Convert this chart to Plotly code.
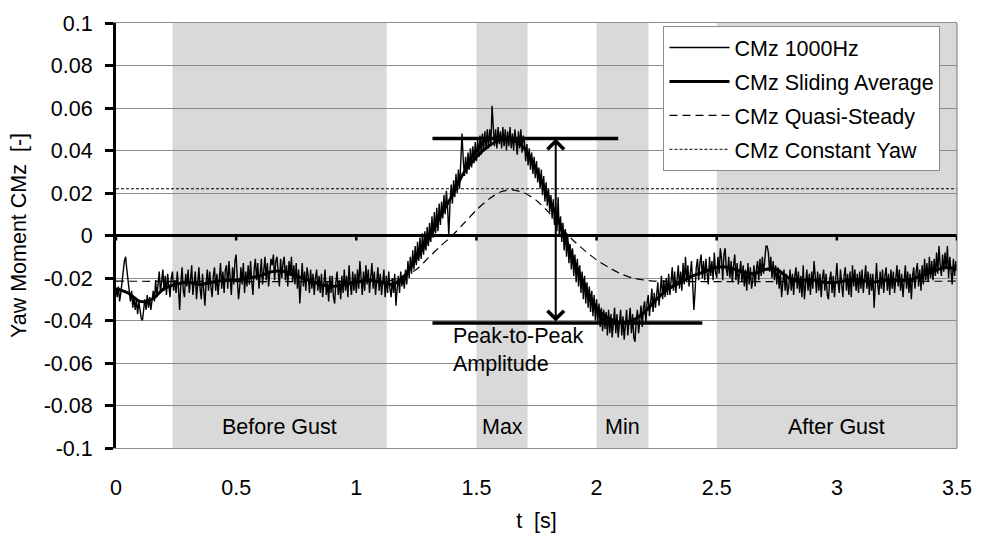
import numpy as np
import plotly.graph_objects as go

# ---------------------------------------------------------------------------
# Data
# ---------------------------------------------------------------------------
# Raw yaw-moment coefficient, resampled every 5 ms (one row = 0.05 s)
dt_raw = 0.005
cmz_1000hz = [
    -0.025, -0.029, -0.024, -0.031, -0.027, -0.020, -0.017, -0.012, -0.010, -0.016,
    -0.021, -0.028, -0.031, -0.026, -0.034, -0.029, -0.035, -0.030, -0.037, -0.031,
    -0.035, -0.039, -0.040, -0.033, -0.030, -0.035, -0.028, -0.034, -0.029, -0.035,
    -0.031, -0.026, -0.031, -0.021, -0.029, -0.023, -0.017, -0.027, -0.020, -0.016,
    -0.026, -0.019, -0.028, -0.018, -0.024, -0.029, -0.020, -0.017, -0.026, -0.021,
    -0.027, -0.017, -0.025, -0.035, -0.022, -0.015, -0.026, -0.029, -0.018, -0.024,
    -0.016, -0.027, -0.021, -0.014, -0.028, -0.023, -0.017, -0.030, -0.020, -0.015,
    -0.025, -0.030, -0.018, -0.027, -0.033, -0.022, -0.016, -0.026, -0.017, -0.024,
    -0.029, -0.019, -0.015, -0.026, -0.018, -0.028, -0.021, -0.013, -0.025, -0.017,
    -0.027, -0.016, -0.014, -0.025, -0.012, -0.022, -0.028, -0.015, -0.023, -0.012,
    -0.009, -0.021, -0.030, -0.024, -0.015, -0.023, -0.013, -0.027, -0.017, -0.024,
    -0.014, -0.023, -0.012, -0.022, -0.028, -0.016, -0.011, -0.021, -0.013, -0.025,
    -0.016, -0.011, -0.023, -0.014, -0.010, -0.021, -0.013, -0.024, -0.015, -0.011,
    -0.014, -0.009, -0.021, -0.012, -0.010, -0.019, -0.024, -0.011, -0.020, -0.013,
    -0.010, -0.021, -0.014, -0.024, -0.012, -0.019, -0.010, -0.022, -0.014, -0.023,
    -0.013, -0.025, -0.016, -0.032, -0.021, -0.013, -0.024, -0.017, -0.026, -0.015,
    -0.019, -0.027, -0.016, -0.025, -0.018, -0.028, -0.020, -0.016, -0.026, -0.019,
    -0.027, -0.018, -0.029, -0.021, -0.016, -0.028, -0.022, -0.031, -0.019, -0.027,
    -0.019, -0.029, -0.032, -0.022, -0.017, -0.028, -0.021, -0.030, -0.019, -0.027,
    -0.016, -0.026, -0.019, -0.029, -0.014, -0.023, -0.028, -0.017, -0.026, -0.018,
    -0.027, -0.016, -0.025, -0.012, -0.022, -0.028, -0.017, -0.026, -0.014, -0.023,
    -0.016, -0.027, -0.020, -0.013, -0.025, -0.017, -0.028, -0.019, -0.015, -0.026,
    -0.018, -0.028, -0.021, -0.016, -0.029, -0.019, -0.027, -0.017, -0.025, -0.029,
    -0.020, -0.027, -0.018, -0.033, -0.025, -0.019, -0.027, -0.017, -0.024, -0.019,
    -0.025, -0.016, -0.023, -0.012, -0.020, -0.010, -0.018, -0.007, -0.016, -0.005,
    -0.014, -0.003, -0.012, -0.001, -0.011, 0.001, -0.009, 0.002, -0.007, 0.004,
    -0.005, 0.006, -0.003, 0.009, -0.001, 0.011, 0.001, 0.013, 0.002, 0.015,
    0.005, 0.016, 0.008, 0.019, 0.010, 0.021, 0.013, 0.000, 0.015, 0.024,
    0.015, 0.026, 0.018, 0.029, 0.020, 0.031, 0.022, 0.033, 0.048, 0.036,
    0.028, 0.037, 0.029, 0.039, 0.031, 0.041, 0.032, 0.042, 0.034, 0.044,
    0.035, 0.045, 0.037, 0.047, 0.038, 0.048, 0.040, 0.049, 0.041, 0.050,
    0.041, 0.050, 0.042, 0.061, 0.052, 0.042, 0.050, 0.041, 0.051, 0.043,
    0.049, 0.041, 0.051, 0.042, 0.050, 0.040, 0.049, 0.042, 0.051, 0.041,
    0.048, 0.040, 0.050, 0.042, 0.038, 0.049, 0.041, 0.050, 0.039, 0.047,
    0.044, 0.035, 0.043, 0.033, 0.041, 0.031, 0.039, 0.029, 0.037, 0.027,
    0.035, 0.025, 0.032, 0.022, 0.031, 0.019, 0.028, 0.016, 0.025, 0.014,
    0.022, 0.011, 0.019, 0.008, 0.017, 0.005, 0.014, 0.002, 0.018, 0.000,
    0.009, -0.003, 0.006, -0.007, 0.003, -0.010, 0.000, -0.013, -0.004, -0.016,
    -0.006, -0.019, -0.009, -0.022, -0.011, -0.024, -0.014, -0.027, -0.017, -0.030,
    -0.019, -0.032, -0.022, -0.034, -0.024, -0.036, -0.026, -0.038, -0.028, -0.040,
    -0.030, -0.041, -0.032, -0.043, -0.034, -0.045, -0.035, -0.044, -0.036, -0.047,
    -0.035, -0.046, -0.037, -0.048, -0.038, -0.034, -0.046, -0.037, -0.048, -0.039,
    -0.035, -0.047, -0.038, -0.049, -0.040, -0.035, -0.047, -0.039, -0.034, -0.046,
    -0.037, -0.048, -0.050, -0.040, -0.035, -0.046, -0.037, -0.033, -0.043, -0.034,
    -0.031, -0.041, -0.032, -0.028, -0.038, -0.029, -0.025, -0.036, -0.027, -0.034,
    -0.026, -0.022, -0.033, -0.024, -0.019, -0.030, -0.021, -0.029, -0.020, -0.028,
    -0.018, -0.028, -0.020, -0.015, -0.026, -0.017, -0.027, -0.019, -0.014, -0.025,
    -0.017, -0.026, -0.013, -0.023, -0.010, -0.022, -0.014, -0.024, -0.016, -0.012,
    -0.023, -0.035, -0.026, -0.015, -0.011, -0.021, -0.013, -0.009, -0.020, -0.012,
    -0.021, -0.011, -0.018, -0.023, -0.010, -0.019, -0.012, -0.021, -0.008, -0.017,
    -0.020, -0.010, -0.018, -0.006, -0.011, -0.021, -0.009, -0.006, -0.016, -0.019,
    -0.010, -0.020, -0.012, -0.022, -0.014, -0.009, -0.021, -0.013, -0.023, -0.015,
    -0.012, -0.022, -0.014, -0.024, -0.016, -0.026, -0.013, -0.023, -0.015, -0.025,
    -0.021, -0.014, -0.024, -0.016, -0.012, -0.021, -0.011, -0.019, -0.010, -0.018,
    -0.011, -0.005, -0.005, -0.008, -0.017, -0.010, -0.020, -0.012, -0.021, -0.014,
    -0.023, -0.015, -0.025, -0.017, -0.029, -0.024, -0.016, -0.026, -0.018, -0.028,
    -0.024, -0.016, -0.026, -0.018, -0.028, -0.019, -0.015, -0.025, -0.017, -0.027,
    -0.019, -0.029, -0.014, -0.030, -0.020, -0.016, -0.026, -0.018, -0.028, -0.017,
    -0.025, -0.012, -0.019, -0.027, -0.017, -0.026, -0.018, -0.029, -0.020, -0.016,
    -0.026, -0.018, -0.028, -0.030, -0.021, -0.017, -0.027, -0.019, -0.029, -0.020,
    -0.013, -0.022, -0.027, -0.016, -0.025, -0.029, -0.019, -0.015, -0.026, -0.018,
    -0.028, -0.017, -0.029, -0.014, -0.024, -0.016, -0.026, -0.018, -0.027, -0.017,
    -0.025, -0.016, -0.027, -0.019, -0.014, -0.025, -0.017, -0.028, -0.018, -0.026,
    -0.018, -0.034, -0.026, -0.013, -0.023, -0.028, -0.017, -0.025, -0.016, -0.027,
    -0.019, -0.015, -0.026, -0.018, -0.028, -0.016, -0.025, -0.017, -0.027, -0.019,
    -0.014, -0.024, -0.016, -0.026, -0.018, -0.029, -0.019, -0.014, -0.025, -0.017,
    -0.027, -0.018, -0.030, -0.019, -0.015, -0.025, -0.017, -0.013, -0.024, -0.016,
    -0.026, -0.014, -0.023, -0.011, -0.021, -0.013, -0.022, -0.010, -0.020, -0.012,
    -0.021, -0.011, -0.019, -0.008, -0.018, -0.005, -0.014, -0.019, -0.009, -0.017,
    -0.008, -0.016, -0.005, -0.020, -0.010, -0.018, -0.023, -0.011, -0.019, -0.012,
    -0.016,
]

# Sliding average, one value every 0.05 s
dt_avg = 0.05
cmz_sliding = [
    -0.025, -0.027, -0.031, -0.030, -0.025, -0.023, -0.022, -0.023, -0.022, -0.021,
    -0.021, -0.020, -0.019, -0.017, -0.017, -0.019, -0.021, -0.023, -0.024, -0.023,
    -0.022, -0.021, -0.022, -0.023, -0.019, -0.011, -0.002, 0.009, 0.019, 0.030,
    0.037, 0.042, 0.045, 0.045, 0.041, 0.031, 0.018, 0.005, -0.010, -0.023,
    -0.034, -0.039, -0.041, -0.040, -0.036, -0.030, -0.025, -0.022, -0.019, -0.017,
    -0.015, -0.015, -0.017, -0.018, -0.016, -0.016, -0.020, -0.021, -0.021, -0.022,
    -0.022, -0.021, -0.021, -0.022, -0.021, -0.021, -0.021, -0.019, -0.017, -0.015,
    -0.016,
]

# Quasi-steady estimate
t_quasi = [0.0, 1.10, 1.15, 1.20, 1.25, 1.30, 1.35, 1.40, 1.45, 1.50, 1.55, 1.60,
           1.65, 1.70, 1.75, 1.80, 1.85, 1.90, 1.95, 2.00, 2.05, 2.10, 2.15, 2.20,
           2.25, 3.50]
cmz_quasi = [-0.0215, -0.0215, -0.021, -0.019, -0.016, -0.0105, -0.005, 0.0,
             0.006, 0.012, 0.017, 0.0205, 0.0215, 0.020, 0.0165, 0.011, 0.004,
             -0.002, -0.007, -0.0115, -0.015, -0.018, -0.020, -0.021, -0.0215,
             -0.0215]

# Constant-yaw reference value
t_const = [0.0, 3.5]
cmz_const = [0.022, 0.022]

# Evaluation windows
band_start = [0.235, 1.5, 2.0, 2.5]
band_end = [1.127, 1.713, 2.216, 3.5]
band_label = ["Before Gust", "Max", "Min", "After Gust"]

# Peak-to-peak markers
peak_level = 0.0456
trough_level = -0.0412
peak_span = [1.317, 2.09]
trough_span = [1.317, 2.44]
amp_t = 1.83

# Axis ticks
x_ticks = [0, 0.5, 1, 1.5, 2, 2.5, 3, 3.5]
x_ticktext = ["0", "0.5", "1", "1.5", "2", "2.5", "3", "3.5"]
y_ticks = [0.1, 0.08, 0.06, 0.04, 0.02, 0, -0.02, -0.04, -0.06, -0.08, -0.1]
y_ticktext = ["0.1", "0.08", "0.06", "0.04", "0.02", "0", "-0.02", "-0.04",
              "-0.06", "-0.08", "-0.1"]

# ---------------------------------------------------------------------------
FONT = "Liberation Sans, Arial, sans-serif"
FS = 21.5
GRID = "#8c8c8c"
BAND = "#d9d9d9"

t_raw = np.round(np.arange(len(cmz_1000hz)) * dt_raw, 4)
t_avg = np.round(np.arange(len(cmz_sliding)) * dt_avg, 4)

fig = go.Figure()

fig.add_trace(go.Scatter(
    x=t_raw, y=cmz_1000hz, mode="lines", name="CMz 1000Hz",
    line=dict(color="black", width=1.4), legendgroup="a"))
fig.add_trace(go.Scatter(
    x=t_avg, y=cmz_sliding, mode="lines", name="CMz Sliding Average",
    line=dict(color="black", width=3, shape="spline", smoothing=0.8),
    legendgroup="b"))
fig.add_trace(go.Scatter(
    x=t_quasi, y=cmz_quasi, mode="lines", name="CMz Quasi-Steady",
    line=dict(color="black", width=1.2, dash="8px,5px", shape="spline",
              smoothing=0.6),
    legendgroup="c"))
fig.add_trace(go.Scatter(
    x=t_const, y=cmz_const, mode="lines", name="CMz Constant Yaw",
    line=dict(color="black", width=1, dash="3px,2px"), legendgroup="d"))

shapes = []
# shaded evaluation windows
for x0, x1 in zip(band_start, band_end):
    shapes.append(dict(type="rect", xref="x", yref="y domain", x0=x0, x1=x1,
                       y0=0, y1=1, fillcolor=BAND, line=dict(width=0),
                       layer="below"))
# right frame edge
shapes.append(dict(type="line", xref="paper", yref="paper", x0=1, x1=1,
                   y0=0, y1=1, line=dict(color=GRID, width=1.2)))
# tick marks on the zero line
for xt in x_ticks:
    shapes.append(dict(type="line", xref="x", yref="y", xsizemode="scaled",
                       ysizemode="pixel", yanchor=0, x0=xt, x1=xt, y0=-5, y1=0,
                       line=dict(color="black", width=2.5)))
# peak and trough levels
shapes.append(dict(type="line", xref="x", yref="y", x0=peak_span[0],
                   x1=peak_span[1], y0=peak_level, y1=peak_level,
                   line=dict(color="black", width=3.5)))
shapes.append(dict(type="line", xref="x", yref="y", x0=trough_span[0],
                   x1=trough_span[1], y0=trough_level, y1=trough_level,
                   line=dict(color="black", width=3.5)))

annotations = []
for x0, x1, lab in zip(band_start, band_end, band_label):
    annotations.append(dict(x=(x0 + x1) / 2, y=-0.09, xref="x", yref="y",
                            text=lab, showarrow=False,
                            font=dict(family=FONT, size=FS, color="black")))
# double-headed amplitude arrow
annotations.append(dict(x=amp_t, y=peak_level, ax=amp_t, ay=trough_level,
                        xref="x", yref="y", axref="x", ayref="y", text="",
                        showarrow=True, arrowhead=4, startarrowhead=4,
                        arrowside="end+start", arrowsize=1.6,
                        startarrowsize=1.6, arrowwidth=2, arrowcolor="black",
                        standoff=0, startstandoff=0))
annotations.append(dict(x=1.395, y=-0.0538, xref="x", yref="y",
                        text="Peak-to-Peak<br>Amplitude", showarrow=False,
                        xanchor="left", align="left",
                        font=dict(family=FONT, size=FS, color="black")))

fig.update_layout(
    width=984, height=541,
    margin=dict(l=116, r=20, t=16, b=91),
    paper_bgcolor="white", plot_bgcolor="white",
    font=dict(family=FONT, size=FS, color="black"),
    showlegend=True,
    legend=dict(x=0.651, y=0.993, xanchor="left", yanchor="top",
                bgcolor="white", bordercolor=GRID, borderwidth=1,
                font=dict(family=FONT, size=FS, color="black"),
                traceorder="grouped", tracegroupgap=3, itemwidth=60),
    shapes=shapes, annotations=annotations,
    xaxis=dict(range=[0, 3.5], tickvals=x_ticks, ticktext=x_ticktext,
               showgrid=False, zeroline=False, showline=True, mirror=True,
               linecolor=GRID, linewidth=1.2, ticks="",
               ticklabelstandoff=20,
               title=dict(text="t  [s]", standoff=14,
                          font=dict(family=FONT, size=FS))),
    yaxis=dict(range=[-0.1, 0.1], tickvals=y_ticks, ticktext=y_ticktext,
               showgrid=True, gridcolor=GRID, gridwidth=1.2,
               zeroline=True, zerolinecolor="black", zerolinewidth=3,
               showline=True, linecolor="black", linewidth=3,
               ticks="outside", ticklen=8, tickwidth=2.5, tickcolor="black",
               ticklabelstandoff=8,
               title=dict(text="Yaw Moment CMz  [-]", standoff=12,
                          font=dict(family=FONT, size=FS))),
)

fig.write_html("out.html")
